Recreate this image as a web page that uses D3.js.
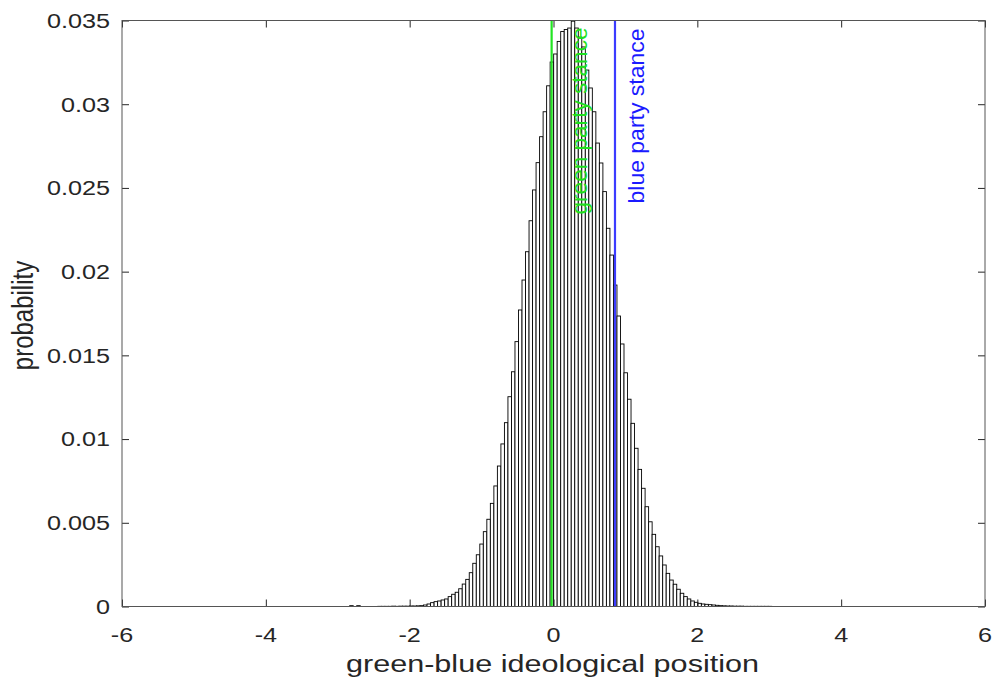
<!DOCTYPE html>
<html><head><meta charset="utf-8">
<script src="https://cdn.jsdelivr.net/npm/d3@7"></script>
<style>body{margin:0;background:#fff}svg{display:block}</style>
</head><body>
<svg id="c" width="992" height="679"></svg>
<script>
// ---- data ----
const binStart = -2.834;
const binWidth = 0.0489;
const probabilities = [
  0.00005, 0, 0.00005, 0, 0, 0, 0, 0, 0.00001, 0.00001,
  0.00001, 0.00001, 0.00002, 0.00001, 0.00002, 0.00002, 0.00002, 0.00003, 0.00003, 0.00004,
  0.00005, 0.00009, 0.00015, 0.00023, 0.00029, 0.00033, 0.00039, 0.00045, 0.00059, 0.00073,
  0.00085, 0.00106, 0.00134, 0.00162, 0.00202, 0.00258, 0.00309, 0.00373, 0.00447, 0.00521,
  0.00616, 0.0072, 0.00839, 0.00971, 0.01098, 0.01253, 0.01402, 0.01582, 0.01771, 0.0195,
  0.02119, 0.02304, 0.02488, 0.02651, 0.02806, 0.02955, 0.0311, 0.03252, 0.033, 0.03375,
  0.03434, 0.03446, 0.03455, 0.03496, 0.03455, 0.03401, 0.03342, 0.03204, 0.03097, 0.02955,
  0.02768, 0.02649, 0.02478, 0.02259, 0.02099, 0.0192, 0.01735, 0.01568, 0.01396, 0.01238,
  0.01094, 0.00945, 0.00819, 0.00706, 0.00596, 0.00506, 0.00431, 0.00357, 0.00302, 0.00248,
  0.00198, 0.00158, 0.00133, 0.00103, 0.00079, 0.00059, 0.00045, 0.00033, 0.00025, 0.00019,
  0.00015, 0.00013, 0.00011, 0.00009, 0.00007, 0.00005, 0.00004, 0.00003, 0.00003, 0.00002,
  0.00002, 0.00002, 0.00001, 0.00001, 0.00001, 0.00001, 0.00001, 0.00001, 0.00001, 0.00001
];
const xTicks = [-6, -4, -2, 0, 2, 4, 6];
const xTickLabels = ["-6", "-4", "-2", "0", "2", "4", "6"];
const yTicks = [0, 0.005, 0.01, 0.015, 0.02, 0.025, 0.03, 0.035];
const yTickLabels = ["0", "0.005", "0.01", "0.015", "0.02", "0.025", "0.03", "0.035"];
const stanceNames = ["green party stance", "blue party stance"];
const stanceValues = [-0.026, 0.855];
const stanceColors = ["#22e422", "#3c3cff"];
const stanceTextColors = ["#1ee01e", "#1a1aff"];
const xLabel = "green-blue ideological position";
const yLabel = "probability";

// ---- layout ----
const L = 122, R = 985, T = 20.5, B = 606.5;
const FONT = "'Liberation Sans', Arial, Helvetica, sans-serif";
const axisColor = "#262626";
const svg = d3.select("#c");

const x = d3.scaleLinear().domain([-6, 6]).range([L, R]);
const y = d3.scaleLinear().domain([0, 0.035]).range([B, T]);

const bins = probabilities.map((v, i) => ({x0: binStart + i * binWidth, x1: binStart + (i + 1) * binWidth, v}))
  .filter(d => d.v > 0);

// bars
svg.append("g").selectAll("rect").data(bins).join("rect")
  .attr("x", d => x(d.x0))
  .attr("width", d => x(d.x1) - x(d.x0))
  .attr("y", d => y(d.v))
  .attr("height", d => y(0) - y(d.v))
  .attr("fill", "#fff")
  .attr("stroke", "#000")
  .attr("stroke-width", 0.9);

// stance lines
svg.append("g").selectAll("line").data(stanceValues).join("line")
  .attr("x1", d => x(d)).attr("x2", d => x(d))
  .attr("y1", T).attr("y2", B)
  .attr("stroke", (d, i) => stanceColors[i])
  .attr("stroke-width", 2.2);

// axes (box with inward ticks)
const tickLen = 7;
const axB = d3.axisTop(x).tickValues(xTicks).tickSize(tickLen).tickFormat("");
const axT = d3.axisBottom(x).tickValues(xTicks).tickSize(tickLen).tickFormat("");
const axL = d3.axisRight(y).tickValues(yTicks).tickSize(tickLen).tickFormat("");
const axR = d3.axisLeft(y).tickValues(yTicks).tickSize(tickLen).tickFormat("");
function styleAxis(g) {
  g.selectAll(".domain").remove();
  g.selectAll("line").attr("stroke", axisColor).attr("stroke-width", 1);
}
svg.append("g").attr("transform", `translate(0,${B})`).call(axB).call(styleAxis);
svg.append("g").attr("transform", `translate(0,${T})`).call(axT).call(styleAxis);
svg.append("g").attr("transform", `translate(${L},0)`).call(axL).call(styleAxis);
svg.append("g").attr("transform", `translate(${R},0)`).call(axR).call(styleAxis);
svg.append("rect").attr("x", L).attr("y", T).attr("width", R - L).attr("height", B - T)
  .attr("fill", "none").attr("stroke", "#555").attr("stroke-width", 1);

// tick labels
svg.append("g").selectAll("text").data(yTicks).join("text")
  .attr("transform", d => `translate(${L - 12},${y(d)}) scale(1.2,1)`)
  .attr("text-anchor", "end").attr("dy", "0.35em")
  .attr("font-family", FONT).attr("font-size", 21).attr("fill", axisColor)
  .text((d, i) => yTickLabels[i]);
svg.append("g").selectAll("text").data(xTicks).join("text")
  .attr("transform", d => `translate(${x(d)},${B + 35}) scale(1.2,1)`)
  .attr("text-anchor", "middle")
  .attr("font-family", FONT).attr("font-size", 21).attr("fill", axisColor)
  .text((d, i) => xTickLabels[i]);

// axis labels
svg.append("text")
  .attr("x", (L + R) / 2 - 1).attr("y", B + 65)
  .attr("text-anchor", "middle")
  .attr("font-family", FONT).attr("font-size", 23).attr("fill", axisColor)
  .attr("textLength", 413).attr("lengthAdjust", "spacingAndGlyphs")
  .text(xLabel);
svg.append("text")
  .attr("transform", `translate(33,${(T + B) / 2 + 2}) scale(1.2,1) rotate(-90)`)
  .attr("text-anchor", "middle")
  .attr("font-family", FONT).attr("font-size", 24).attr("fill", axisColor)
  .text(yLabel);

// stance labels (rotated, reading upward)
svg.append("text")
  .attr("transform", `translate(${x(stanceValues[0]) + 35},${T + 194}) rotate(-90)`)
  .attr("font-family", FONT).attr("font-size", 22).attr("fill", stanceTextColors[0])
  .attr("textLength", 187).attr("lengthAdjust", "spacingAndGlyphs")
  .text(stanceNames[0]);
svg.append("text")
  .attr("transform", `translate(${x(stanceValues[1]) + 29},${T + 183}) rotate(-90)`)
  .attr("font-family", FONT).attr("font-size", 22).attr("fill", stanceTextColors[1])
  .attr("textLength", 175).attr("lengthAdjust", "spacingAndGlyphs")
  .text(stanceNames[1]);
</script>
</body></html>
